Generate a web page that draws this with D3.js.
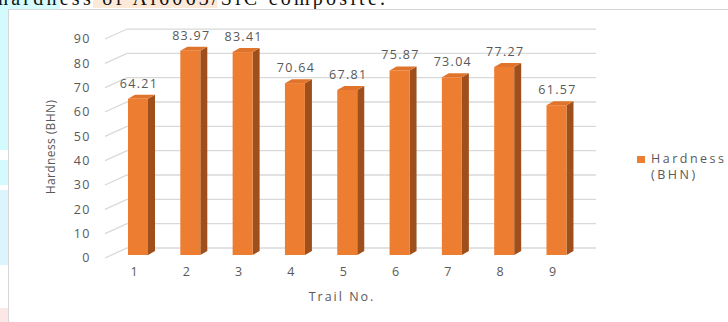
<!DOCTYPE html>
<html>
<head>
<meta charset="utf-8">
<script src="https://cdn.jsdelivr.net/npm/d3@7"></script>
<style>
  body { margin: 0; background: #fff; }
  svg text { font-family: "Open Sans", "Noto Sans", sans-serif; fill: #595959; }
</style>
</head>
<body>
<div id="chart"></div>
<script>
var width = 728;
var height = 322;

// data
var trails = ["1", "2", "3", "4", "5", "6", "7", "8", "9"];
var hardness = [64.21, 83.97, 83.41, 70.64, 67.81, 75.87, 73.04, 77.27, 61.57];
var yTicks = [0, 10, 20, 30, 40, 50, 60, 70, 80, 90];
var seriesName = ["Hardness", "(BHN)"];

var data = trails.map(function (t, i) { return { trail: t, value: hardness[i] }; });

var svg = d3.select("#chart").append("svg")
    .attr("width", width)
    .attr("height", height);

// page background bits around the pasted chart
var bg = svg.append("g");
bg.append("rect").attr("x", 0).attr("y", 0).attr("width", 60).attr("height", 9).attr("fill", "#d3fafc");
bg.append("rect").attr("x", 93).attr("y", 0).attr("width", 124).attr("height", 8).attr("fill", "#fde9d7");
bg.append("rect").attr("x", 0).attr("y", 0).attr("width", 8).attr("height", 150).attr("fill", "#d3fafc");
bg.append("rect").attr("x", 0).attr("y", 160).attr("width", 8).attr("height", 25).attr("fill", "#d3fafc");
bg.append("rect").attr("x", 0).attr("y", 190).attr("width", 8).attr("height", 75).attr("fill", "#dcf4fb");
bg.append("rect").attr("x", 0).attr("y", 308).attr("width", 8).attr("height", 14).attr("fill", "#fde6e6");

// caption above the chart, cut off at the top like the source
svg.append("text")
    .attr("x", -2).attr("y", 5)
    .attr("textLength", 387)
    .style("font-family", "'Liberation Serif', serif")
    .style("font-size", "20px")
    .style("fill", "#111")
    .text("hardness of Al6063/SiC composite.");

// chart frame
svg.append("rect")
    .attr("x", 8.5).attr("y", 9.5)
    .attr("width", 740).attr("height", 330)
    .attr("fill", "#fff")
    .attr("stroke", "#d6d6d6");

// scales
var y = d3.scaleLinear().domain([0, 90]).range([255, 255 - 90 * 2.433]);
var x = d3.scaleBand().domain(trails).range([111.85, 582.65]).paddingInner(0.618).paddingOuter(0.309);

var backDx = 22, backDy = -10;   // back wall offset from front plane
var wallLeft = 105, wallRight = 596;
var depthX = 7, depthY = -4;      // bar depth

// gridlines: side diagonal + back wall line
var grid = svg.append("g");
yTicks.forEach(function (t) {
  var yf = y(t) + 3;
  grid.append("path")
      .attr("d", "M" + wallLeft + "," + yf + "L" + (wallLeft + backDx) + "," + (yf + backDy) + "L" + wallRight + "," + (yf + backDy))
      .attr("fill", "none")
      .attr("stroke", "#d9d9d9")
      .attr("stroke-width", 1.3);
});

// y axis labels
svg.append("g").selectAll("text")
    .data(yTicks)
    .enter().append("text")
    .attr("x", 91)
    .attr("y", function (d) { return y(d) + 3; })
    .attr("dy", "0.35em")
    .attr("text-anchor", "end")
    .style("font-size", "12.5px")
    .style("letter-spacing", "1.5px")
    .text(function (d) { return d; });

// bars
var bars = svg.append("g").selectAll("g")
    .data(data)
    .enter().append("g");

bars.append("path")
    .attr("d", function (d) {
      var x1 = x(d.trail) + x.bandwidth(), yt = y(d.value), yb = y(0);
      return "M" + x1 + "," + yt + "L" + (x1 + depthX) + "," + (yt + depthY) + "L" + (x1 + depthX) + "," + (yb + depthY) + "L" + x1 + "," + yb + "Z";
    })
    .attr("fill", "#9e4f1c");

bars.append("path")
    .attr("d", function (d) {
      var x0 = x(d.trail), x1 = x0 + x.bandwidth(), yt = y(d.value);
      return "M" + x0 + "," + yt + "L" + (x0 + depthX) + "," + (yt + depthY) + "L" + (x1 + depthX) + "," + (yt + depthY) + "L" + x1 + "," + yt + "Z";
    })
    .attr("fill", "#e0742c");

bars.append("rect")
    .attr("x", function (d) { return x(d.trail); })
    .attr("y", function (d) { return y(d.value); })
    .attr("width", x.bandwidth())
    .attr("height", function (d) { return y(0) - y(d.value); })
    .attr("fill", "#ed7d31");

// value labels
bars.append("text")
    .attr("x", function (d) { return x(d.trail) + x.bandwidth() / 2 + 1; })
    .attr("y", function (d) { return y(d.value) - 11; })
    .attr("text-anchor", "middle")
    .style("font-size", "12.5px")
    .style("letter-spacing", "1.3px")
    .text(function (d) { return d.value.toFixed(2); });

// x labels
svg.append("g").selectAll("text")
    .data(trails)
    .enter().append("text")
    .attr("x", function (d) { return x(d) + x.bandwidth() / 2 - 4; })
    .attr("y", 276)
    .attr("text-anchor", "middle")
    .style("font-size", "12.5px")
    .text(function (d) { return d; });

// axis titles
svg.append("text")
    .attr("x", 342).attr("y", 301)
    .attr("text-anchor", "middle")
    .style("font-size", "12.5px")
    .style("letter-spacing", "2px")
    .text("Trail No.");

svg.append("text")
    .attr("transform", "translate(55,147) rotate(-90)")
    .attr("text-anchor", "middle")
    .style("font-size", "12px")
    .style("letter-spacing", "0.4px")
    .text("Hardness (BHN)");

// legend
var legend = svg.append("g");
legend.append("rect")
    .attr("x", 637).attr("y", 156)
    .attr("width", 8).attr("height", 7)
    .attr("fill", "#ed7d31");
legend.selectAll("text.lg")
    .data(seriesName)
    .enter().append("text")
    .attr("class", "lg")
    .attr("x", 651)
    .attr("y", function (d, i) { return 163 + i * 16; })
    .style("font-size", "12.5px")
    .style("letter-spacing", "2.5px")
    .text(function (d) { return d; });
</script>
</body>
</html>
